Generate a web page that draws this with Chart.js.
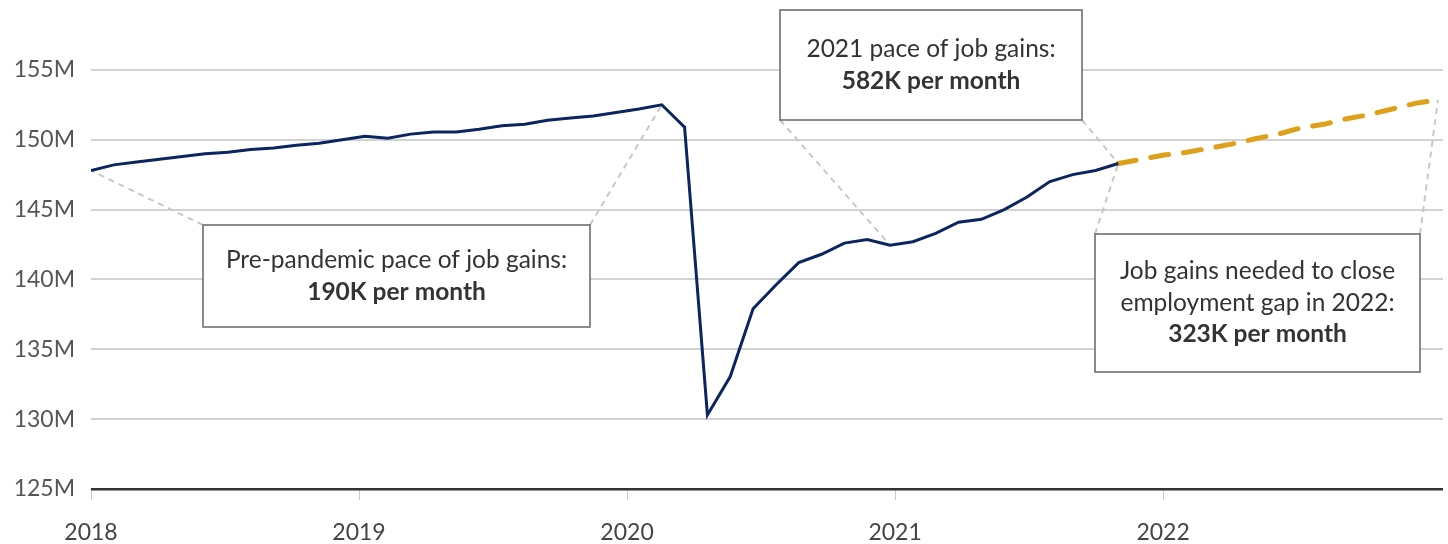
<!DOCTYPE html>
<html>
<head>
<meta charset="utf-8">
<script src="https://cdn.jsdelivr.net/npm/chart.js@4.4.1/dist/chart.umd.min.js"></script>
<style>
  html, body { margin: 0; padding: 0; background: #fff; }
  #wrap { width: 1448px; height: 544px; position: relative; }
</style>
</head>
<body>
<div id="wrap"><canvas id="jobs"></canvas></div>
<script>
// payroll employment, millions, monthly from Jan 2018
var actual = [
  147.8, 148.2, 148.4, 148.6, 148.8, 149.0, 149.1, 149.3, 149.4, 149.6, 149.75, 150.0,
  150.25, 150.1, 150.4, 150.55, 150.55, 150.75, 151.0, 151.1, 151.4, 151.55, 151.7, 151.95,
  152.2, 152.5, 150.9, 130.3, 133.05, 137.9, 139.6, 141.2, 141.8, 142.6, 142.85, 142.45,
  142.7, 143.3, 144.1, 144.3, 145.0, 145.9, 147.0, 147.5, 147.8, 148.3
];
// needed path, Oct 2021 - Dec 2022
var projStart = 45;
var projected = [148.3, 148.6, 148.9, 149.1, 149.4, 149.7, 150.07, 150.4, 150.85, 151.1, 151.5, 151.8, 152.2, 152.6, 152.85];

var yearLabels = ['2018', '2019', '2020', '2021', '2022'];
var yearTicks = [0, 11.74, 23.48, 35.22, 46.96];
var yTicks = [125, 130, 135, 140, 145, 150, 155];

var font = "Lato, 'Open Sans', sans-serif";

var notes = [
  { box: [203, 225, 590, 327], text: ['Pre-pandemic pace of job gains:'], bold: '190K per month',
    leaders: [['tl', 0, 0], ['tr', 0, 25]] },
  { box: [780, 10, 1082, 120], text: ['2021 pace of job gains:'], bold: '582K per month',
    leaders: [['bl', 0, 35], ['br', 0, 45]] },
  { box: [1095, 234, 1420, 372], text: ['Job gains needed to close', 'employment gap in 2022:'], bold: '323K per month',
    leaders: [['tl', 0, 45], ['tr', 1, 14]] }
];

function corner(b, c) {
  return [c[1] === 'l' ? b[0] : b[2], c[0] === 't' ? b[1] : b[3]];
}

var notesPlugin = {
  id: 'notes',
  beforeDatasetsDraw: function (chart) {
    var ctx = chart.ctx;
    ctx.save();
    ctx.strokeStyle = '#c8c8c8';
    ctx.lineWidth = 2;
    ctx.setLineDash([6, 5]);
    notes.forEach(function (n) {
      n.leaders.forEach(function (l) {
        var p = chart.getDatasetMeta(l[1]).data[l[2]];
        var c = corner(n.box, l[0]);
        ctx.beginPath();
        ctx.moveTo(c[0], c[1]);
        ctx.lineTo(p.x, p.y);
        ctx.stroke();
      });
    });
    ctx.restore();
  },
  afterDatasetsDraw: function (chart) {
    var ctx = chart.ctx;
    ctx.save();
    notes.forEach(function (n) {
      var b = n.box;
      ctx.fillStyle = '#fff';
      ctx.fillRect(b[0], b[1], b[2] - b[0], b[3] - b[1]);
      ctx.strokeStyle = '#666';
      ctx.lineWidth = 1.5;
      ctx.strokeRect(b[0], b[1], b[2] - b[0], b[3] - b[1]);
      var lines = n.text.concat([n.bold]);
      var step = 31.5;
      var cx = (b[0] + b[2]) / 2;
      var y0 = (b[1] + b[3]) / 2 - step * (lines.length - 1) / 2;
      ctx.textAlign = 'center';
      ctx.textBaseline = 'middle';
      ctx.fillStyle = '#333';
      lines.forEach(function (t, i) {
        ctx.font = (i === lines.length - 1 ? 'bold ' : '') + '24.5px ' + font;
        ctx.fillText(t, cx, y0 + i * step);
      });
    });
    ctx.restore();
  }
};

new Chart(document.getElementById('jobs'), {
  type: 'line',
  data: {
    datasets: [{
      data: actual.map(function (v, i) { return { x: i, y: v }; }),
      borderColor: '#0b2560',
      borderWidth: 3,
      pointRadius: 0,
      tension: 0
    }, {
      data: projected.map(function (v, i) { return { x: projStart + i, y: v }; }),
      borderColor: '#dea01a',
      borderWidth: 5,
      borderDash: [18, 15],
      borderCapStyle: 'round',
      pointRadius: 0,
      tension: 0
    }]
  },
  options: {
    responsive: true,
    maintainAspectRatio: false,
    animation: false,
    layout: { padding: { left: 0, right: 5, top: 0, bottom: 0 } },
    plugins: { legend: { display: false }, tooltip: { enabled: false } },
    scales: {
      x: {
        type: 'linear',
        min: 0,
        max: 59.22,
        afterBuildTicks: function (s) { s.ticks = yearTicks.map(function (v) { return { value: v }; }); },
        afterFit: function (s) { s.height = 55; },
        ticks: {
          autoSkip: false,
          maxRotation: 0,
          padding: 19,
          color: '#444',
          font: { family: font, size: 23 },
          callback: function (v, i) { return yearLabels[i]; }
        },
        grid: { drawOnChartArea: false, drawTicks: true, tickLength: 11, color: '#ccc', lineWidth: 1 },
        border: { display: false }
      },
      y: {
        min: 125,
        max: 160,
        afterBuildTicks: function (s) { s.ticks = yTicks.map(function (v) { return { value: v }; }); },
        afterFit: function (s) { s.width = 91; s.paddingTop = 0; s.paddingBottom = 0; },
        ticks: {
          padding: 16,
          color: '#555',
          font: { family: font, size: 23 },
          callback: function (v) { return v + 'M'; }
        },
        grid: {
          drawTicks: false,
          color: function (c) { return c.tick && c.tick.value === 125 ? '#333' : '#d2d2d2'; },
          lineWidth: function (c) { return c.tick && c.tick.value === 125 ? 2.5 : 2; }
        },
        border: { display: false }
      }
    }
  },
  plugins: [notesPlugin]
});
</script>
</body>
</html>
